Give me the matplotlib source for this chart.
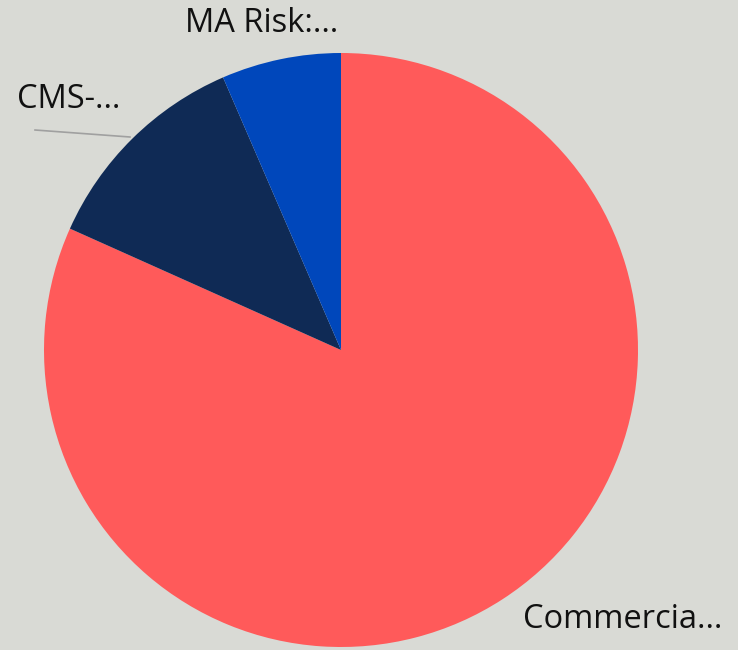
import matplotlib.pyplot as plt

labels = ['Commercia…', 'CMS-…', 'MA Risk:…']
values = [81.7, 11.8, 6.5]
colors = ['#FF5A5A', '#0F2A55', '#0047BB']

bg = '#D9DAD5'
fig = plt.figure(figsize=(7.38, 6.5), dpi=100, facecolor=bg)
ax = fig.add_axes([0, 0, 1, 1])
ax.set_facecolor(bg)

ax.pie(values, colors=colors, startangle=90, counterclock=False,
       center=(341, 300), radius=297, frame=True,
       wedgeprops=dict(linewidth=0))
ax.set_xlim(0, 738)
ax.set_ylim(0, 650)
ax.axis('off')

font = dict(family='Open Sans', fontsize=23.5, color='#111111', va='center', ha='left')
ax.text(185, 627, labels[2], **font)
ax.text(17, 550, labels[1], **font)
ax.text(523, 30, labels[0], **font)
ax.plot([35, 130], [520, 513], color='#A0A0A0', linewidth=1.2)

fig.savefig('out.png', dpi=100, facecolor=bg)
